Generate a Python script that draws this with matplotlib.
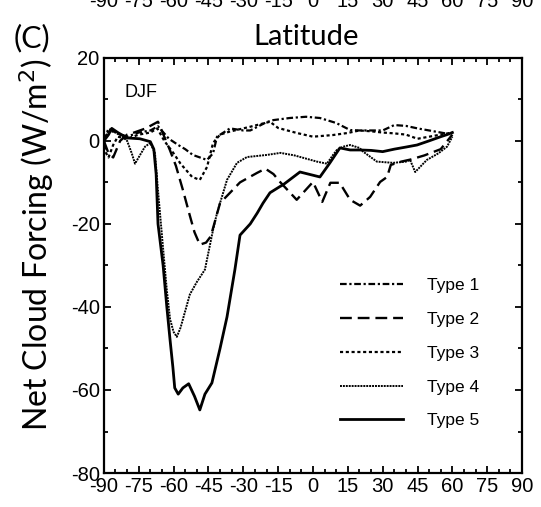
import numpy as np
import matplotlib
matplotlib.use("Agg")
import matplotlib.pyplot as plt
import matplotlib.transforms as mtransforms

plt.rcParams["axes.unicode_minus"] = False

# latitude / net cloud forcing
lat1 = [-90, -88, -85, -80, -75, -70, -66.7, -62, -58, -55, -51.7, -45.6, -43, -41.3, -35.7,
        -30, -27, -20, -17, -10, -3, 3, 10, 16, 20, 25, 30, 35, 40, 45, 50, 55, 60]
val1 = [0, 3, 2, 1, 2, 2.5, 3.5, 0.5, -1, -2, -3.4, -4.6, -3, 1, 3,
        2.5, 2.5, 4.5, 5, 5.5, 5.8, 5.5, 4.3, 2.6, 2.5, 2.5, 2.5, 3.8, 3.6, 3, 2.5, 2, 1.5]

lat2 = [-90, -88, -86, -83, -80, -77, -72, -66.7, -64, -61.6, -59, -56, -53, -51, -48.7, -46,
        -44, -42, -40, -35.7, -31.4, -24, -20.5, -17, -14, -7, 0, 4, 7.5, 11.5, 16, 20.3,
        24.6, 28.9, 31.9, 33.5, 38, 42, 48, 55, 60]
val2 = [0, -3, -4, 0, 1.5, 2, 3, 4.6, 1, -2.2, -6, -11.8, -18, -22, -25, -24.5,
        -23, -19, -15, -12.5, -10, -7.7, -6.7, -8, -10, -14.2, -9.9, -14.7, -10.1, -10.1, -14.2, -15.6,
        -13.5, -9.9, -8.7, -5.8, -5, -4.5, -3.5, -2, 1.5]

lat3 = [-90, -89, -88, -86, -84, -80, -75, -70, -67, -64, -60, -57, -52, -48.7, -45.6, -43,
        -40, -36, -27, -18.5, -15, -7, 0, 8.6, 15, 20, 25, 30, 35, 40, 45, 50, 55, 60]
val3 = [0, -3, -4, -1, 1, 0.5, 1.5, 2, 3, 0, -3, -5.5, -8.7, -9.4, -6.3, -0.5,
        1.5, 2.2, 3.4, 4.6, 3.1, 1.9, 1, 1.4, 1.9, 2.5, 2.3, 2, 1.8, 1.5, 0.5, 1, 1.5, 2]

lat4 = [-90, -88, -85, -82, -80, -78, -76.6, -74, -72.3, -70, -68, -66.7, -64.5, -62.9, -61.5,
        -60, -58.6, -57, -55, -53, -50, -46.5, -43, -41.3, -40, -37, -32.7, -28.4, -20, -14,
        -8, 1.7, 6, 8.5, 10.3, 13, 16, 20, 21.6, 27.5, 34.5, 40, 41.8, 44, 49, 54, 57.7, 60]
val4 = [0, 2.5, 2, 1, 0, -3, -5.5, -3, -1.4, -0.5, -3, -12, -26, -36, -43,
        -46, -47.2, -45, -41, -37, -34, -31, -21.4, -17.4, -15, -9.4, -5.3, -3.9, -3.4, -2.9,
        -3.5, -5, -5.5, -3.5, -2.2, -1.4, -1, -1.7, -2.6, -5, -5.3, -5, -4.6, -7.5, -4.6, -3, -1.4, 1]

lat5 = [-90, -88, -86.6, -84, -80, -74.5, -70, -68.5, -67.5, -66.7, -64.5, -62.9, -61.5, -60.3,
        -59.5, -58, -56, -53.5, -51, -48.7, -46.5, -43.5, -40, -37, -33.6, -31.4, -27, -24,
        -21.5, -18.5, -14.2, -12.9, -5.6, 3, 7.3, 11.6, 16, 20.3, 25, 30, 35, 40, 44.8, 50, 55, 57.7, 60]
val5 = [0, 1.5, 3, 2, 0.7, 0.5, -0.2, -2, -8, -20, -30, -40, -48, -54.5,
        -59.5, -61, -59.5, -58.5, -61.5, -64.8, -61, -58.3, -50, -42.4, -31, -22.7, -20, -17.4,
        -15, -12.5, -11, -10.6, -7.5, -8.7, -5.3, -1.7, -2.2, -2.2, -2.3, -2.6, -2, -1.5, -1, 0, 1, 1.5, 2]

labels = ["Type 1", "Type 2", "Type 3", "Type 4", "Type 5"]
xticks = list(range(-90, 91, 15))

fig = plt.figure(figsize=(5.41, 5.07), dpi=100)
ax = fig.add_axes([0.192, 0.067, 0.773, 0.819])

ax.plot(lat1, val1, color="black", lw=1.6, ls=(0, (3, 1.2, 1, 1.2)), label=labels[0])
ax.plot(lat2, val2, color="black", lw=1.7, ls=(0, (5, 2.5)), label=labels[1])
ax.plot(lat3, val3, color="black", lw=1.6, ls=(0, (1.4, 1.2)), label=labels[2])
ax.plot(lat4, val4, color="black", lw=1.4, ls=(0, (1, 0.5)), label=labels[3])
ax.plot(lat5, val5, color="black", lw=2.0, ls="-", label=labels[4])

ax.set_xlim(-90, 90)
ax.set_ylim(-80, 20)
ax.set_xticks(xticks)
ax.set_xticks(range(-90, 91, 5), minor=True)
ax.set_yticks(range(-80, 21, 20))
ax.set_yticks(range(-80, 21, 10), minor=True)
ax.tick_params(which="both", direction="in", top=True, right=True, width=1.3)
ax.tick_params(which="major", length=5)
ax.tick_params(which="minor", length=3)
ax.tick_params(axis="both", labelsize=14.5, pad=3)
for lab in ax.get_xticklabels() + ax.get_yticklabels():
    lab.set_family("Liberation Sans")
for s in ax.spines.values():
    s.set_linewidth(1.6)

ax.text(0.05, 0.917, "DJF", transform=ax.transAxes, fontsize=13,
        family="Liberation Sans", va="center", ha="left")

leg = ax.legend(loc="lower right", bbox_to_anchor=(0.935, 0.07), frameon=False,
                handlelength=3.6, handletextpad=1.4, labelspacing=1.07,
                prop={"family": "Liberation Sans", "size": 12.5})

fig.text(0.566, 0.928, "Latitude", ha="center", va="center", fontsize=21, family="Lato")
fig.text(0.067, 0.518, "Net Cloud Forcing (W/m$^2$)", rotation=90, ha="center",
         va="center", fontsize=23, family="Lato")
fig.text(0.025, 0.925, "(C)", ha="left", va="center", fontsize=22, family="Lato")

# tick labels of the panel above, cut by the top edge
trans = mtransforms.blended_transform_factory(ax.transData, fig.transFigure)
for t in xticks:
    fig.text(t, 1 - 7 / 507, str(t), transform=trans, ha="center", va="baseline",
             fontsize=14.5, family="Liberation Sans")

fig.savefig("out.png", dpi=100)
